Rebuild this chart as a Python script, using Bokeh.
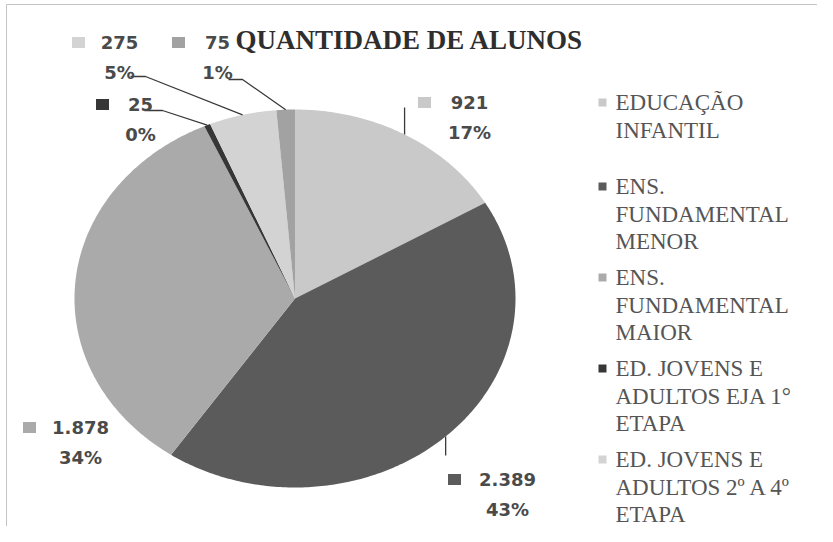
import numpy as np
from bokeh.plotting import figure
from bokeh.models import Range1d, ColumnDataSource
from bokeh.embed import file_html
from bokeh.resources import INLINE
from bokeh.core.properties import value

# ---------------- data ----------------
title = "QUANTIDADE DE ALUNOS"
categories = [
    "EDUCAÇÃO INFANTIL",
    "ENS. FUNDAMENTAL MENOR",
    "ENS. FUNDAMENTAL MAIOR",
    "ED. JOVENS E ADULTOS EJA 1° ETAPA",
    "ED. JOVENS E ADULTOS 2º A 4º ETAPA",
    "(sem legenda)",
]
alunos = [921, 2389, 1878, 25, 275, 75]
cores = ["#c9c9c9", "#5b5b5b", "#aaaaaa", "#363636", "#d3d3d3", "#a2a2a2"]
legend_lines = [
    ["EDUCAÇÃO", "INFANTIL"],
    ["ENS.", "FUNDAMENTAL", "MENOR"],
    ["ENS.", "FUNDAMENTAL", "MAIOR"],
    ["ED. JOVENS E", "ADULTOS EJA 1°", "ETAPA"],
    ["ED. JOVENS E", "ADULTOS 2º A 4º", "ETAPA"],
]

# ---------------- layout ----------------
W, H = 817, 526
CX, CY, RX, RY = 302.5, 306.0, 220.5, 189.0
label_pos = [(477, 110, 432), (515, 487, 462), (88, 435, 37),
             (148, 112, 110), (127, 50, 86), (225, 50, 186)]
PCT_DY = 30
leader_extra = [
    "v115", "v463", None,
    [(170, 118), (152, 118)],
    [(153, 84), (138, 84)],
    [(250, 87), (236, 87)],
]
LEG_MX, LEG_TX = 610, 623
leg_entry_y = [110, 194, 285, 376, 467]
LEG_STEP = 27.5
SERIF = "Times New Roman"

p = figure(width=W, height=H, output_backend="svg", toolbar_location=None,
           x_range=Range1d(8, 8 + W), y_range=Range1d(8 + H, 8), min_border=0)
p.axis.visible = False
p.grid.visible = False
p.outline_line_color = None
p.background_fill_color = "white"

# chart border (only its top and left edges are visible)
p.multi_line(xs=[[14, 14, 860]], ys=[[570, 12, 12]], line_color="#c4c4c4", line_width=1)

# ---------------- pie (elliptical) ----------------
total = float(sum(alunos))
fr = np.array(alunos) / total
ends = np.cumsum(fr) * 2 * np.pi
starts = ends - fr * 2 * np.pi
xs, ys = [], []
for a0, a1 in zip(starts, ends):
    t = np.linspace(a0, a1, max(4, int((a1 - a0) * 80)))
    xs.append(list(np.concatenate([[CX], CX + RX * np.sin(t)])))
    ys.append(list(np.concatenate([[CY], CY - RY * np.cos(t)])))
p.patches(xs=xs, ys=ys, fill_color=cores, line_color=None)

# ---------------- leaders ----------------
mids = (starts + ends) / 2
lx, ly = [], []
for i, ex in enumerate(leader_extra):
    if ex is None:
        continue
    mx, my = float(CX + RX * np.sin(mids[i])), float(CY - RY * np.cos(mids[i]))
    if isinstance(ex, str):
        lx.append([mx, mx]); ly.append([my, float(ex[1:])])
    else:
        lx.append([mx] + [q[0] for q in ex]); ly.append([my] + [q[1] for q in ex])
p.multi_line(xs=lx, ys=ly, line_color="#3a3a3a", line_width=1.3)

# ---------------- title ----------------
p.text(x=[243], y=[47], text=[title], text_align="left", text_baseline="middle",
       text_font=value(SERIF), text_font_style="bold", text_font_size="27px",
       text_color="#2e2e2e")

# ---------------- legend ----------------
tx, ty, tt = [], [], []
for e, lines in enumerate(legend_lines):
    for k, s in enumerate(lines):
        tx.append(LEG_TX); ty.append(leg_entry_y[e] + k * LEG_STEP); tt.append(s)
p.text(x=tx, y=ty, text=tt, text_align="left", text_baseline="middle",
       text_font=value(SERIF), text_font_style="normal", text_font_size="23px",
       text_color="#555555")
p.rect(x=[LEG_MX] * len(legend_lines), y=leg_entry_y, width=8, height=8,
       fill_color=cores[:len(legend_lines)], line_color=None)

# ---------------- data labels ----------------
def fmt(v):
    return f"{v:,}".replace(",", ".")

vals = [fmt(v) for v in alunos]
pcts = [f"{round(v / total * 100):.0f}%" for v in alunos]
p.rect(x=[q[2] for q in label_pos], y=[q[1] for q in label_pos], width=13, height=11,
       fill_color=cores, line_color=None)
p.text(x=[q[0] for q in label_pos], y=[q[1] for q in label_pos], text=vals,
       text_align="center", text_baseline="middle",
       text_font=value("DejaVu Sans"), text_font_style="bold", text_font_size="18px",
       text_color="#4a4a4a")
p.text(x=[q[0] for q in label_pos], y=[q[1] + PCT_DY for q in label_pos], text=pcts,
       text_align="center", text_baseline="middle",
       text_font=value("DejaVu Sans"), text_font_style="bold", text_font_size="18px",
       text_color="#4a4a4a")

open("out.html", "w").write(file_html(p, INLINE))
